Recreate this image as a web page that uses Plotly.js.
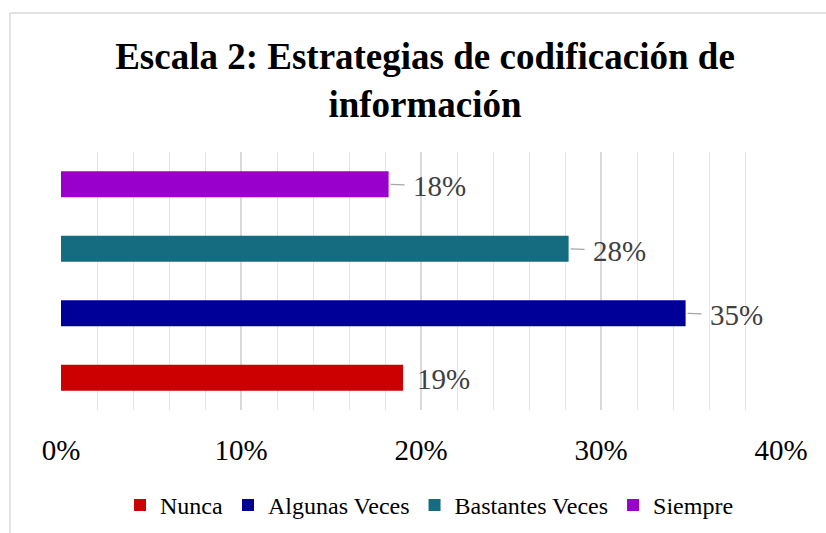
<!DOCTYPE html>
<html>
<head>
<meta charset="utf-8">
<script src="https://cdn.plot.ly/plotly-3.0.1.min.js"></script>
<style>
html,body{margin:0;padding:0;background:#fff;}
#chart{width:826px;height:533px;}
</style>
</head>
<body>
<div id="chart"></div>
<script>
// Data
const seriesNames = ["Nunca", "Algunas Veces", "Bastantes Veces", "Siempre"];
const seriesValues = [0.19, 0.347, 0.282, 0.182];
const seriesColors = ["#cc0000", "#000099", "#156b80", "#9900cc"];
const labelTexts = ["19%", "35%", "28%", "18%"];
const xTickVals = [0, 0.1, 0.2, 0.3, 0.4];
const xTickText = ["0%", "10%", "20%", "30%", "40%"];
const leaderLine = [false, true, true, true];

const serif = "Liberation Serif, Times New Roman, serif";

const traces = seriesNames.map((name, i) => ({
  type: "bar",
  orientation: "h",
  name: name,
  x: [seriesValues[i]],
  y: [name],
  width: 0.4,
  marker: {color: seriesColors[i]},
  hoverinfo: "skip"
}));

const annotations = seriesNames.map((name, i) => leaderLine[i] ? ({
  x: seriesValues[i], y: name, xref: "x", yref: "y",
  text: labelTexts[i],
  showarrow: true, ax: 51, ay: 2, axref: "pixel", ayref: "pixel",
  arrowhead: 0, arrowwidth: 1.3, arrowcolor: "#a6a6a6", standoff: 2,
  borderpad: 8,
  font: {family: serif, size: 29, color: "#404040"}
}) : ({
  x: seriesValues[i], y: name, xref: "x", yref: "y",
  text: labelTexts[i], showarrow: false,
  xanchor: "left", yanchor: "middle", xshift: 12, yshift: -1,
  font: {family: serif, size: 29, color: "#404040"}
}));

// plot area: 61..781 px horizontally, 152..410 px vertically
const PL = 61, PR = 781, PT = 152, PB = 410;
const px = v => (v - PL) / (PR - PL);
const py = v => (PB - v) / (PB - PT);

const layout = {
  width: 826, height: 533,
  paper_bgcolor: "#ffffff", plot_bgcolor: "#ffffff",
  margin: {l: PL, r: 826 - PR, t: PT, b: 533 - PB},
  title: {
    text: "<b>Escala 2: Estrategias de codificación de<br>información</b>",
    font: {family: serif, size: 37, color: "#000000"},
    x: 0.5145, xref: "container", xanchor: "center",
    y: 0.871, yref: "container", yanchor: "top"
  },
  barmode: "overlay",
  showlegend: true,
  legend: {
    orientation: "h", x: 0.52, xanchor: "center", xref: "container",
    y: 0.052, yanchor: "middle", yref: "container",
    font: {family: serif, size: 24, color: "#000000"},
    traceorder: "normal"
  },
  xaxis: {
    range: [0, 0.4],
    tickvals: xTickVals, ticktext: xTickText,
    tickfont: {family: serif, size: 29, color: "#000000"},
    showgrid: true, gridcolor: "#d9d9d9", gridwidth: 1.3,
    minor: {dtick: 0.02, showgrid: true, gridcolor: "#e6e6e6", gridwidth: 1},
    zeroline: false, showline: false, ticks: "",
    ticklabelstandoff: 20,
    fixedrange: true
  },
  yaxis: {
    categoryorder: "array", categoryarray: seriesNames,
    showticklabels: false, showgrid: false, zeroline: false, showline: false,
    ticks: "", fixedrange: true
  },
  annotations: annotations,
  shapes: [
    {type: "line", xref: "paper", yref: "paper", x0: px(10), x1: px(830), y0: py(13), y1: py(13),
     line: {color: "#d9d9d9", width: 1.5}},
    {type: "line", xref: "paper", yref: "paper", x0: px(10), x1: px(10), y0: py(540), y1: py(13),
     line: {color: "#d9d9d9", width: 1.5}}
  ]
};

Plotly.newPlot("chart", traces, layout, {displayModeBar: false, staticPlot: true});
</script>
</body>
</html>
